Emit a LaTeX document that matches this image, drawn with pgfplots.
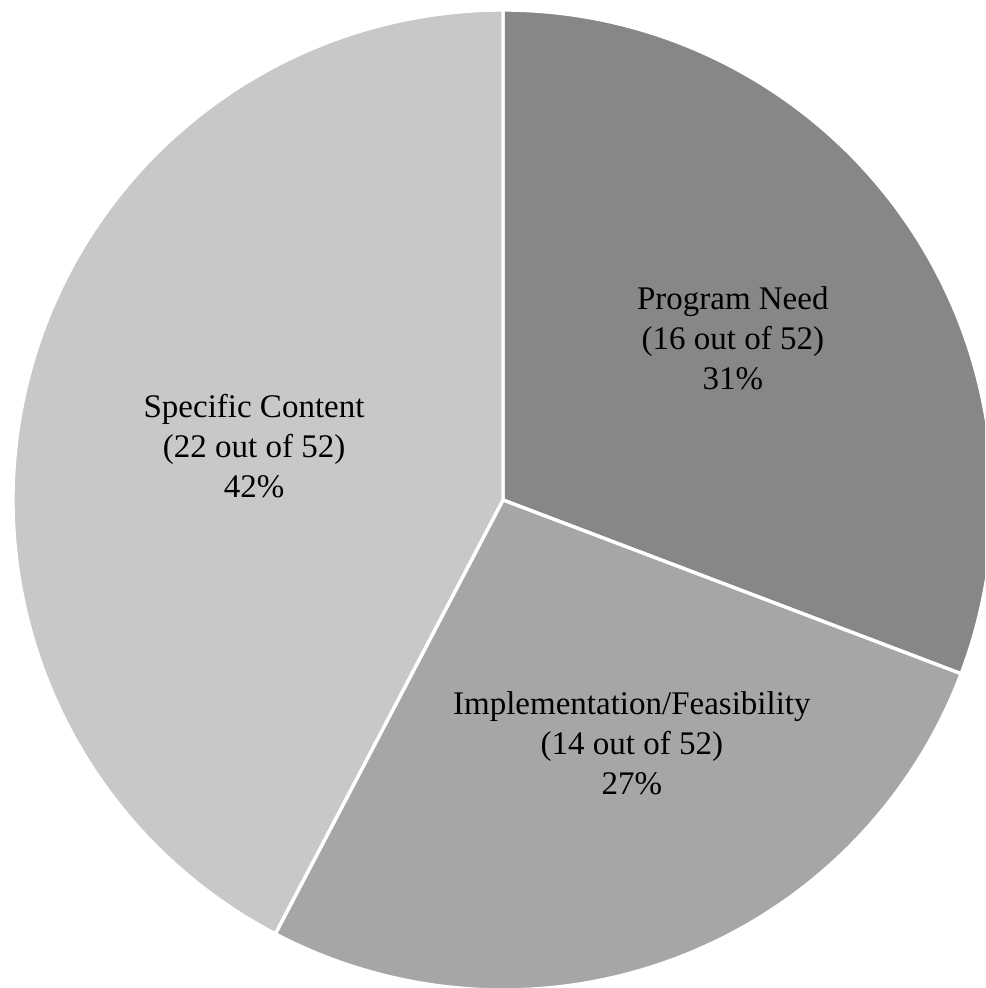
\documentclass[border=0pt]{standalone}
\usepackage{pgfplots}
\pgfplotsset{compat=1.18}
\usepackage{fontspec}
\setmainfont{Liberation Serif}
\definecolor{cA}{HTML}{878787}
\definecolor{cB}{HTML}{A6A6A6}
\definecolor{cC}{HTML}{C8C8C8}
% slice values
\def\vA{16}\def\vB{14}\def\vC{22}
\pgfmathsetmacro{\tot}{\vA+\vB+\vC}
\pgfmathsetmacro{\aA}{90-360*\vA/\tot}
\pgfmathsetmacro{\aB}{\aA-360*\vB/\tot}
\pgfmathsetmacro{\aC}{\aB-360*\vC/\tot}
\begin{document}
\begin{tikzpicture}
\begin{axis}[
  width=492.5pt, height=494pt, scale only axis,
  xmin=-1.0265, xmax=0.9837, ymin=-0.9959, ymax=1.0204,
  hide axis, clip=true,
]
\addplot[fill=cA, draw=white, line width=1.7pt, domain=\aA:90, samples=120]
  ({cos(x)},{sin(x)}) -- (axis cs:0,0) -- cycle;
\addplot[fill=cB, draw=white, line width=1.7pt, domain=\aB:\aA, samples=120]
  ({cos(x)},{sin(x)}) -- (axis cs:0,0) -- cycle;
\addplot[fill=cC, draw=white, line width=1.7pt, domain=\aC:\aB, samples=160]
  ({cos(x)},{sin(x)}) -- (axis cs:0,0) -- cycle;
\node[align=center, font=\fontsize{16.5}{20}\selectfont] at (axis cs:0.469,0.331)
  {Program Need\\(16 out of 52)\\31\%};
\node[align=center, font=\fontsize{16.5}{20}\selectfont] at (axis cs:0.263,-0.496)
  {Implementation/Feasibility\\(14 out of 52)\\27\%};
\node[align=center, font=\fontsize{16.5}{20}\selectfont] at (axis cs:-0.508,0.110)
  {Specific Content\\(22 out of 52)\\42\%};
\end{axis}
\pgfresetboundingbox
\useasboundingbox (current axis.south west) rectangle (current axis.north east);
\end{tikzpicture}
\end{document}
